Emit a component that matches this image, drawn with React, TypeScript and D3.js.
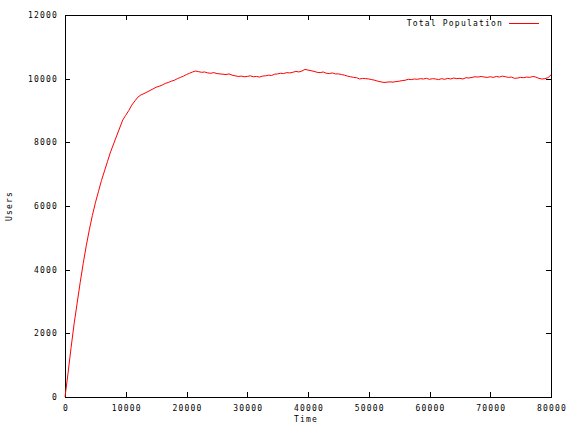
import React, { useEffect, useRef } from "react";
import * as d3 from "d3";

// simulation samples, one every 500 time units
const timeStep = 500;
const users = [
  0, 750, 1550, 2300, 2950, 3600, 4200, 4750, 5250, 5700,
  6100, 6450, 6800, 7100, 7400, 7700, 7950, 8200, 8450, 8700,
  8850, 9000, 9170, 9300, 9420, 9490, 9530, 9580, 9630, 9680,
  9730, 9760, 9800, 9850, 9880, 9920, 9950, 10000, 10040, 10080,
  10130, 10170, 10210, 10240, 10220, 10200, 10210, 10180, 10170, 10190,
  10160, 10150, 10140, 10130, 10150, 10110, 10090, 10070, 10080, 10060,
  10070, 10090, 10060, 10070, 10050, 10080, 10090, 10110, 10100, 10140,
  10150, 10170, 10160, 10190, 10180, 10200, 10230, 10210, 10240, 10290,
  10270, 10250, 10230, 10200, 10190, 10210, 10170, 10160, 10180, 10150,
  10150, 10130, 10110, 10080, 10060, 10040, 10030, 9990, 10010, 10000,
  9990, 9970, 9950, 9920, 9900, 9880, 9890, 9900, 9890, 9910,
  9920, 9940, 9950, 9980, 9970, 9990, 9980, 10000, 9990, 10010,
  9980, 10000, 9990, 9970, 10000, 9980, 10010, 9990, 10020, 10000,
  10010, 9990, 10030, 10020, 10040, 10060, 10050, 10070, 10050, 10040,
  10060, 10040, 10070, 10050, 10080, 10060, 10040, 10050, 10010, 10020,
  10040, 10030, 10050, 10040, 10070, 10050, 10010, 9990, 10000, 10030,
  10120,
];
const xTicks = [0, 10000, 20000, 30000, 40000, 50000, 60000, 70000, 80000];
const yTicks = [0, 2000, 4000, 6000, 8000, 10000, 12000];
const seriesName = "Total Population";

const W = 568;
const H = 423;
const margin = { top: 15, left: 65, bottom: 26, right: 17 };
const font = "'DejaVu Sans Mono', monospace";

const App = () => {
  const ref = useRef<SVGSVGElement>(null);

  useEffect(() => {
    const svg = d3.select(ref.current);
    svg.selectAll("*").remove();

    const width = W - margin.left - margin.right;
    const height = H - margin.top - margin.bottom;

    const x = d3.scaleLinear().domain([0, 80000]).range([margin.left, margin.left + width]);
    const y = d3.scaleLinear().domain([0, 12000]).range([margin.top + height, margin.top]);

    const txt = (sel: any) =>
      sel
        .attr("font-family", font)
        .attr("font-size", 8)
        .attr("letter-spacing", 1.2)
        .attr("fill", "#000");

    // frame
    svg
      .append("rect")
      .attr("x", margin.left + 0.5)
      .attr("y", margin.top + 0.5)
      .attr("width", width)
      .attr("height", height)
      .attr("fill", "none")
      .attr("stroke", "#000")
      .attr("stroke-width", 1);

    const tl = 5;
    const ticks = svg.append("g").attr("stroke", "#000").attr("stroke-width", 1);
    xTicks.forEach((t) => {
      const px = Math.round(x(t)) + 0.5;
      ticks.append("line").attr("x1", px).attr("x2", px).attr("y1", y(0)).attr("y2", y(0) - tl);
      ticks.append("line").attr("x1", px).attr("x2", px).attr("y1", y(12000)).attr("y2", y(12000) + tl);
    });
    yTicks.forEach((t) => {
      const py = Math.round(y(t)) + 0.5;
      ticks.append("line").attr("x1", x(0)).attr("x2", x(0) + tl).attr("y1", py).attr("y2", py);
      ticks.append("line").attr("x1", x(80000)).attr("x2", x(80000) - tl).attr("y1", py).attr("y2", py);
    });

    // tick labels
    svg
      .append("g")
      .selectAll("text")
      .data(yTicks)
      .join("text")
      .call(txt)
      .attr("text-anchor", "end")
      .attr("x", margin.left - 7)
      .attr("y", (d) => y(d) + 3)
      .text((d) => String(d));

    svg
      .append("g")
      .selectAll("text")
      .data(xTicks)
      .join("text")
      .call(txt)
      .attr("text-anchor", "middle")
      .attr("x", (d) => x(d) + 1)
      .attr("y", y(0) + 14)
      .text((d) => String(d));

    // axis titles
    svg
      .append("text")
      .call(txt)
      .attr("text-anchor", "middle")
      .attr("x", 306)
      .attr("y", 422)
      .text("Time");

    svg
      .append("text")
      .call(txt)
      .attr("text-anchor", "middle")
      .attr("transform", `translate(12, ${206}) rotate(-90)`)
      .text("Users");

    // series
    const line = d3
      .line<number>()
      .x((d, i) => x(i * timeStep))
      .y((d) => y(d));

    svg
      .append("path")
      .datum(users)
      .attr("fill", "none")
      .attr("stroke", "#ff0000")
      .attr("stroke-width", 1)
      .attr("d", line);

    // legend
    svg
      .append("text")
      .call(txt)
      .attr("text-anchor", "end")
      .attr("x", 503)
      .attr("y", 26)
      .text(seriesName);
    svg
      .append("line")
      .attr("x1", 509)
      .attr("x2", 539)
      .attr("y1", 23.5)
      .attr("y2", 23.5)
      .attr("stroke", "#ff0000")
      .attr("stroke-width", 1);
  }, []);

  return (
    <svg
      ref={ref}
      width={W}
      height={H}
      style={{ position: "absolute", left: 0, top: 0, background: "#fff" }}
    />
  );
};

export default App;
